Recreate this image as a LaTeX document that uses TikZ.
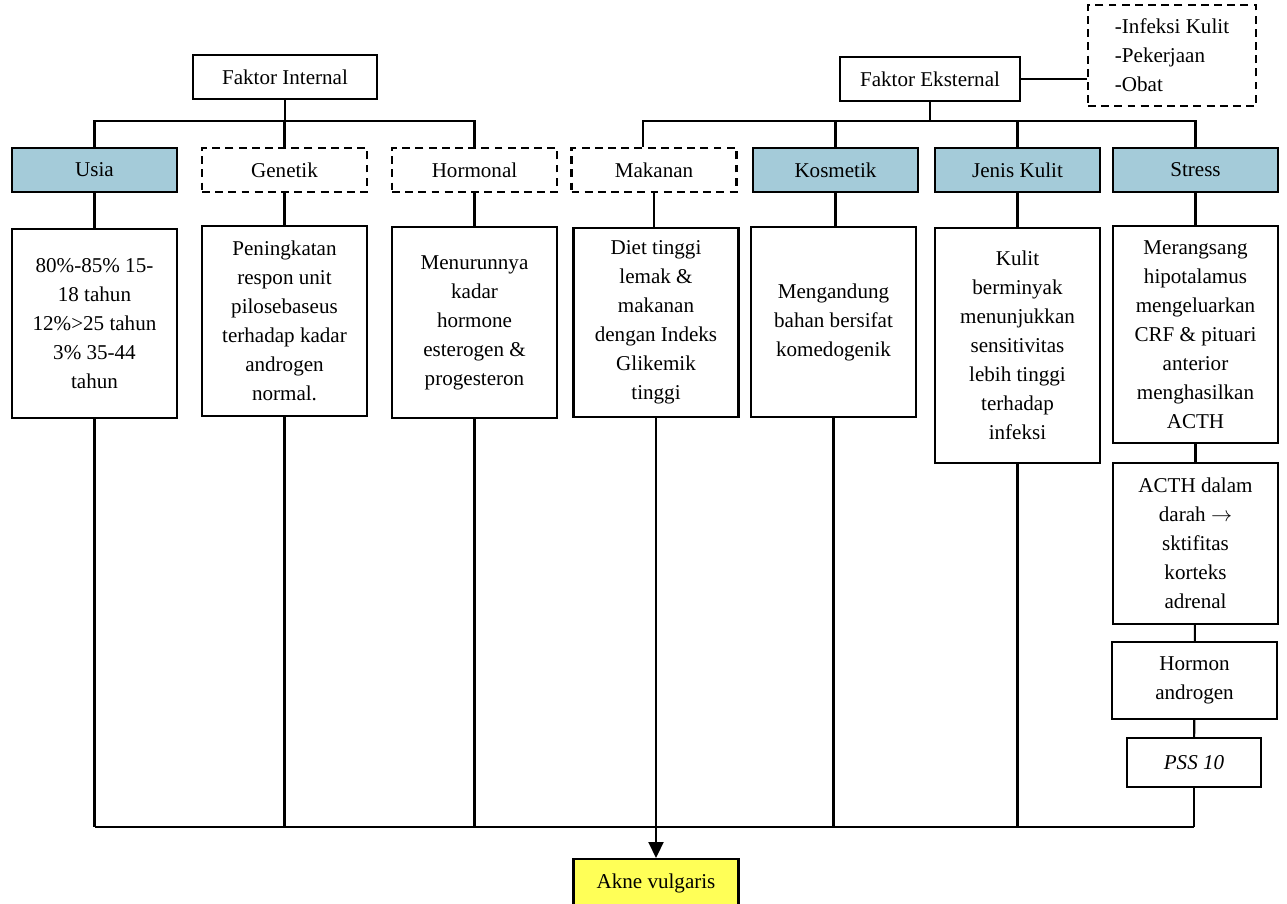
\documentclass[tikz,border=0pt]{standalone}
\usepackage{fontspec}
\setmainfont{Liberation Serif}
\usepackage{xcolor}
\usepackage{tikz}
\usetikzlibrary{arrows.meta, positioning, calc}
\definecolor{faktorblue}{RGB}{164, 203, 217}
\definecolor{akneyellow}{RGB}{255, 255, 87}

\begin{document}
\begin{tikzpicture}[
    x=0.02cm, y=-0.02cm,
    every node/.style={font=\fontsize{12}{16.5}\selectfont},
    box/.style={rectangle, draw, line width=1.2pt, minimum width=3.3cm, minimum height=0.88cm, align=flush center, inner sep=2pt},
    dashbox/.style={box, dash pattern=on 4.5pt off 3pt},
    info/.style={box, anchor=north, text width=3.1cm},
    line/.style={line width=1.2pt},
    arrow/.style={line, -{Triangle[length=3.2mm, width=3mm]}}
]
\useasboundingbox (0,0) rectangle (1287,903);
\coordinate (topbus) at (0,121);
\coordinate (lowbus) at (0,827);
\coordinate (mkbus) at (643,121);

\node[box, minimum width=3.68cm] (intern) at (285,77) {Faktor Internal};
\node[box, minimum width=3.6cm] (ekstern) at (930,79) {Faktor Eksternal};
\node[dashbox, minimum width=3.36cm, minimum height=2.02cm, align=flush left] (lain) at (1172,55.5) {-Infeksi Kulit\\-Pekerjaan\\-Obat};

\node[box, fill=faktorblue] (usia) at (94.5,170) {Usia};
\node[dashbox] (genetik) at (284.5,170) {Genetik};
\node[dashbox] (hormonal) at (474.5,170) {Hormonal};
\node[dashbox] (makanan) at (654,170) {Makanan};
\node[box, fill=faktorblue] (kosmetik) at (835.5,170) {Kosmetik};
\node[box, fill=faktorblue] (jenis) at (1017.5,170) {Jenis Kulit};
\node[box, fill=faktorblue] (stress) at (1195.5,170) {Stress};

\node[info, minimum height=3.78cm] (usiaT) at (94.5,228) {80\%-85\% 15-\\18 tahun\\12\%>25 tahun\\3\% 35-44\\tahun};
\node[info, minimum height=3.8cm] (genetikT) at (284.5,225) {Peningkatan\\respon unit\\pilosebaseus\\terhadap kadar\\androgen\\normal.};
\node[info, minimum height=3.82cm] (hormonalT) at (474.5,226) {Menurunnya\\kadar\\hormone\\esterogen \&\\progesteron};
\node[info, minimum height=3.78cm] (makananT) at (656,227) {Diet tinggi\\lemak \&\\makanan\\dengan Indeks\\Glikemik\\tinggi};
\node[info, minimum height=3.8cm] (kosmetikT) at (833.5,226) {Mengandung\\bahan bersifat\\komedogenik};
\node[info, minimum height=4.7cm] (jenisT) at (1017.5,227) {Kulit\\berminyak\\menunjukkan\\sensitivitas\\lebih tinggi\\terhadap\\infeksi};
\node[info, minimum height=4.34cm] (stressT) at (1195.5,225) {Merangsang\\hipotalamus\\mengeluarkan\\CRF \& pituari\\anterior\\menghasilkan\\ACTH};
\node[info, minimum height=3.22cm] (acth) at (1195.5,462) {ACTH dalam\\darah $\rightarrow$\\sktifitas\\korteks\\adrenal};
\node[info, minimum height=1.54cm] (androgen) at (1194.5,641) {Hormon\\androgen};
\node[box, anchor=north, minimum width=2.68cm, minimum height=0.98cm] (pss) at (1194,737) {\textit{PSS 10}};
\node[box, anchor=north, fill=akneyellow, minimum height=0.96cm] (akne) at (656,858) {Akne vulgaris};

\draw[line] (intern) -- (intern |- topbus);
\draw[line] (usia.north) -- (usia.north |- topbus) -| (hormonal.north);
\draw[line] (genetik.north) -- (genetik.north |- topbus);
\draw[line] (ekstern.east) -- (ekstern.east -| lain.west);
\draw[line] (ekstern) -- (ekstern |- topbus);
\draw[line] (mkbus |- makanan.north) -- (mkbus) -| (stress.north);
\draw[line] (kosmetik.north) -- (kosmetik.north |- topbus);
\draw[line] (jenis.north) -- (jenis.north |- topbus);

\foreach \head/\info in {usia/usiaT, genetik/genetikT, hormonal/hormonalT, makanan/makananT, kosmetik/kosmetikT, jenis/jenisT, stress/stressT}
    \draw[line] (\head.south) -- (\head.south |- \info.north);
\draw[line] (stressT) -- (acth);
\draw[line] (acth) -- (androgen);
\draw[line] (androgen) -- (pss);

\foreach \info in {usiaT, genetikT, hormonalT, kosmetikT, jenisT, pss}
    \draw[line] (\info.south) -- (\info.south |- lowbus);
\draw[line] (usiaT.south |- lowbus) -- (pss.south |- lowbus);
\draw[arrow] (makananT) -- (akne);
\end{tikzpicture}
\end{document}
